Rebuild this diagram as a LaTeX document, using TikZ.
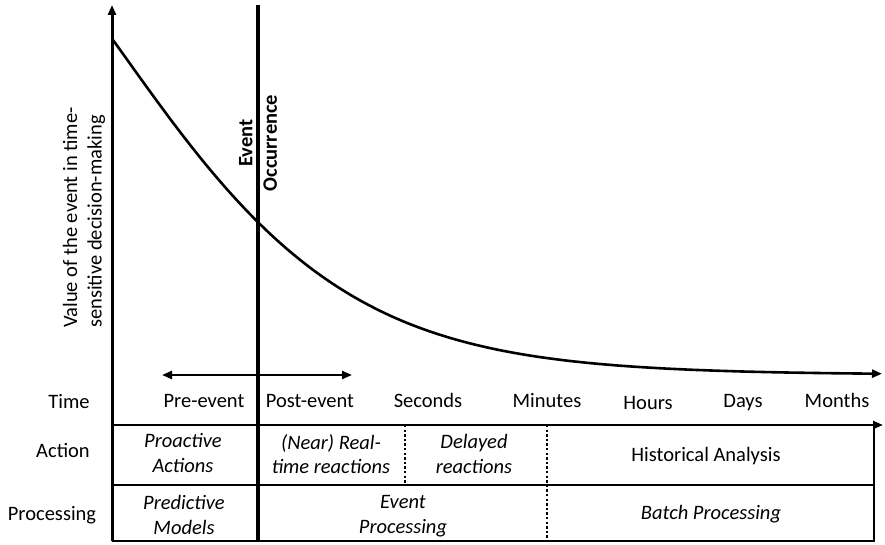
\documentclass[tikz,border=0pt]{standalone}
\usepackage{fontspec}
\setmainfont{Carlito}
\usetikzlibrary{arrows.meta}
\begin{document}
\begin{tikzpicture}[x=1pt,y=-1pt,
  every node/.style={font=\fontsize{20.5}{24.5}\selectfont, inner sep=0pt},
  lbl/.style={anchor=base},
  itl/.style={align=center, font=\fontsize{20.5}{24.5}\selectfont\itshape},
  axisline/.style={line width=3pt},
  eventline/.style={line width=3.6pt},
  rule/.style={line width=2.4pt},
  sepline/.style={line width=2.4pt, dash pattern=on 2.4pt off 2.2pt},
  curveline/.style={line width=2.6pt},
  head/.tip={Triangle[length=10pt,width=8pt]},
]
\useasboundingbox (0,0) rectangle (885,545);

% axes and event marker
\coordinate (yb) at (112,541);
\coordinate (yt) at (112,5);
\coordinate (eb) at (258,541);
\coordinate (et) at (258,5);
\draw[axisline,-head] (yb) -- (yt);
\draw[eventline] (eb) -- (et);

% table frame
\coordinate (tl) at (112,425);
\coordinate (tr) at (883,425);
\coordinate (rt) at (874,425);
\coordinate (rb) at (874,541);
\coordinate (ml) at (112,485);
\coordinate (mr) at (874,485);
\draw[rule,-head] (tl) -- (tr);
\draw[rule,line join=miter] (rt) -- (rb) -- (yb);
\draw[rule] (ml) -- (mr);

% dotted separators
\coordinate (d1t) at (405,425);
\coordinate (d1b) at (405,485);
\coordinate (d2t) at (547,425);
\coordinate (d2b) at (547,541);
\draw[sepline] (d1t) -- (d1b);
\draw[sepline] (d2t) -- (d2b);

% pre/post event arrow
\coordinate (pa) at (162,375);
\coordinate (pb) at (352,375);
\draw[rule,head-head] (pa) -- (pb);

% value decay curve: y = 376 - 336 exp(-h(u)), u in [0,1] over the time axis
\draw[curveline,-head] plot[domain=0:1, samples=120, smooth]
  ({113+770*\x}, {376-336*exp(-(3.2*\x+5.8*\x*\x-4*\x*\x*\x))});

% vertical labels
\node[rotate=90, align=left, anchor=west] (ylab) at (84,328)
  {Value of the event in time-\\sensitive decision-making};
\node[rotate=90, align=center, font=\fontsize{20.5}{24.5}\selectfont\bfseries] (occ) at (258,143)
  {Event\\Occurrence};

% time row
\node[lbl] (time) at (69,408) {Time};
\node[lbl] (pre) at (204,407) {Pre-event};
\node[lbl] (post) at (310,407) {Post-event};
\node[lbl] (sec) at (428,407) {Seconds};
\node[lbl] (min) at (547,407) {Minutes};
\node[lbl] (hrs) at (648,409) {Hours};
\node[lbl] (days) at (743,407) {Days};
\node[lbl] (mon) at (837,407) {Months};

% action row
\node[lbl] (act) at (63,457) {Action};
\node[itl] (proact) at (183,453) {Proactive\\Actions};
\node[itl] (rt) at (331,454) {(Near) Real-\\time reactions};
\node[itl] (del) at (474,454) {Delayed\\reactions};
\node[lbl] (hist) at (706,461) {Historical Analysis};

% processing row
\node[lbl] (proc) at (52,520) {Processing};
\node[itl] (pred) at (184,515) {Predictive\\Models};
\node[itl] (evp) at (403,516) {Event\\Processing};
\node[lbl, font=\fontsize{20.5}{24.5}\selectfont\itshape] (batch) at (711,519) {Batch Processing};
\end{tikzpicture}
\end{document}
